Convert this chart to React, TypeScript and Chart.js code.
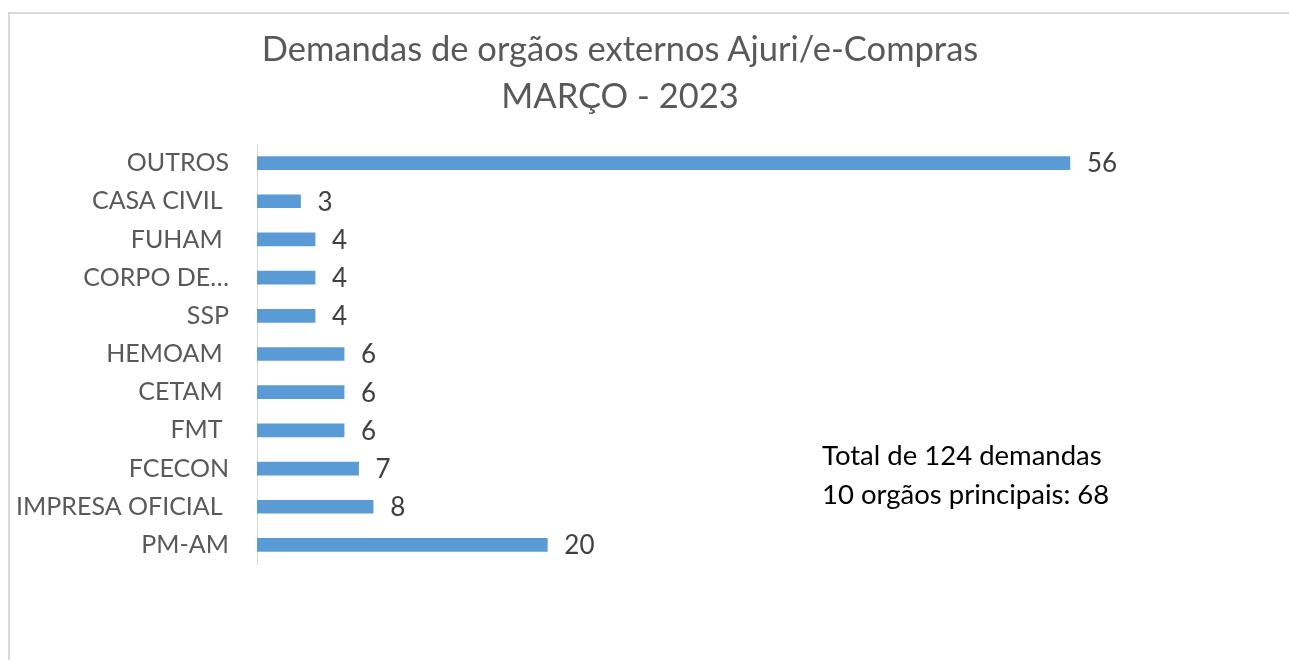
import React, { useEffect, useRef } from "react";
import { Chart, registerables } from "chart.js";

Chart.register(...registerables);

const categories = [
  "OUTROS",
  "CASA CIVIL ",
  "FUHAM ",
  "CORPO DE…",
  "SSP",
  "HEMOAM ",
  "CETAM ",
  "FMT ",
  "FCECON",
  "IMPRESA OFICIAL ",
  "PM-AM",
];
const values = [56, 3, 4, 4, 4, 6, 6, 6, 7, 8, 20];
const titleLines = ["Demandas de orgãos externos Ajuri/e-Compras", "MARÇO - 2023"];
const noteLines = ["Total de 124 demandas", "10 orgãos principais: 68"];

const FONT = "Lato, 'Open Sans', sans-serif";

export default function App() {
  const ref = useRef<HTMLCanvasElement | null>(null);

  useEffect(() => {
    if (!ref.current) return;
    const dataLabels = {
      id: "dataLabels",
      afterDatasetsDraw(chart: any) {
        const ctx = chart.ctx;
        const meta = chart.getDatasetMeta(0);
        ctx.save();
        ctx.font = `26px ${FONT}`;
        ctx.fillStyle = "#404040";
        ctx.textAlign = "left";
        ctx.textBaseline = "middle";
        meta.data.forEach((el: any, i: number) => {
          ctx.fillText(String(values[i]), el.x + 17, el.y + 1);
        });
        ctx.restore();
      },
    };
    const chart = new Chart(ref.current, {
      type: "bar",
      data: {
        labels: categories,
        datasets: [
          {
            data: values,
            backgroundColor: "#5b9bd5",
            borderWidth: 0,
            barThickness: 13,
          },
        ],
      },
      options: {
        indexAxis: "y",
        responsive: false,
        animation: false,
        layout: { padding: { left: 0, right: 161, top: 144, bottom: 96 } },
        plugins: {
          legend: { display: false },
          tooltip: { enabled: false },
          title: { display: false },
        },
        scales: {
          x: { display: false, min: 0, max: 60 },
          y: {
            grid: { display: false, drawTicks: false },
            border: { display: true, color: "#d9d9d9", width: 1 },
            ticks: {
              padding: 28,
              color: "#595959",
              font: { family: FONT, size: 25 },
              autoSkip: false,
            },
            afterFit: (s: any) => {
              s.width = 257;
            },
          },
        },
      },
      plugins: [dataLabels],
    } as any);
    return () => chart.destroy();
  }, []);

  return (
    <div
      style={{
        position: "fixed",
        left: 0,
        top: 0,
        width: 1289,
        height: 660,
        overflow: "hidden",
        background: "#fff",
      }}
    >
      <div
        style={{
          position: "absolute",
          left: 8,
          top: 12,
          width: 1289,
          height: 700,
          borderTop: "2px solid #d9d9d9",
          borderLeft: "2px solid #d9d9d9",
        }}
      />
      <canvas
        ref={ref}
        width={1289}
        height={660}
        style={{ position: "absolute", left: 0, top: 0 }}
      />
      <div
        style={{
          position: "absolute",
          left: 8,
          width: 1224,
          top: 24,
          textAlign: "center",
          fontFamily: FONT,
          fontSize: 34.5,
          lineHeight: "47px",
          color: "#595959",
          whiteSpace: "nowrap",
        }}
      >
        {titleLines.map((t) => (
          <div key={t}>{t}</div>
        ))}
      </div>
      <div
        style={{
          position: "absolute",
          left: 822,
          top: 435,
          fontFamily: FONT,
          fontSize: 27.5,
          lineHeight: "39px",
          color: "#000",
          whiteSpace: "nowrap",
        }}
      >
        {noteLines.map((t) => (
          <div key={t}>{t}</div>
        ))}
      </div>
    </div>
  );
}
